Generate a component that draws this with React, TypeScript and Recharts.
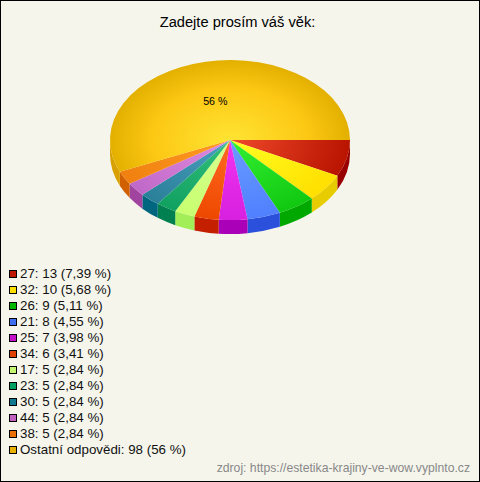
import React from 'react';
import { PieChart, Pie, Legend } from 'recharts';

const ages = ['27', '32', '26', '21', '25', '34', '17', '23', '30', '44', '38', 'Ostatní odpovědi'];
const counts = [13, 10, 9, 8, 7, 6, 5, 5, 5, 5, 5, 98];
const shares = ['7,39 %', '5,68 %', '5,11 %', '4,55 %', '3,98 %', '3,41 %', '2,84 %', '2,84 %', '2,84 %', '2,84 %', '2,84 %', '56 %'];

const innerColors = ['#f04a2c', '#ffff22', '#33f033', '#6a9cff', '#f033f0', '#ff6a22', '#d8ff90', '#33c07c', '#4aa0c0', '#e08ce0', '#ff9c22', '#ffe433'];
const outerColors = ['#b81400', '#ffdf00', '#10c810', '#5080ff', '#d820e0', '#ee4800', '#c8ff70', '#10a060', '#2a8098', '#c068c8', '#f08010', '#e4b000'];
const rimColors = ['#990000', '#e6cc00', '#00a800', '#2a50dc', '#aa00b8', '#c42000', '#a2ee58', '#008050', '#006680', '#a044a0', '#d06000', '#d8a000'];
const swatches = ['#c01800', '#ffe000', '#00b800', '#4070f0', '#c410c8', '#e04000', '#c4f870', '#00a060', '#107890', '#c060c0', '#e87000', '#e8b000'];

const CX = 230;
const CY = 140;
const RX = 120;
const RY = 80;
const DEPTH = 14;
const FONT = '"Liberation Sans", Arial, sans-serif';

const rows = ages.map((age, i) => ({
  name: `${age}: ${counts[i]} (${shares[i]})`,
  value: counts[i],
  fill: `url(#slice${i})`,
}));

// the original's fake 3d squeezes the lower left slices by a couple of degrees
const warp = (a: number) => {
  if (a <= 75) return a;
  if (a <= 160) return a - ((a - 75) / 85) * 2.9;
  return a - ((360 - a) / 200) * 2.9;
};
const px = (a: number) => (a * Math.PI) / 180;
const ex = (cx: number, a: number) => cx + RX * Math.cos(px(a));
const ey = (cy: number, a: number) => cy + RY * Math.sin(px(a));

const Slice3D = (props: any) => {
  const { cx, cy, startAngle, endAngle, fill, index } = props;
  const a0 = warp(-startAngle);
  const a1 = warp(-endAngle);
  const large = a1 - a0 > 180 ? 1 : 0;
  const top = `M${cx},${cy} L${ex(cx, a0)},${ey(cy, a0)} A${RX},${RY} 0 ${large} 1 ${ex(cx, a1)},${ey(cy, a1)} Z`;
  const lo = Math.max(a0, 0);
  const hi = Math.min(a1, 180);
  let rim = null;
  if (hi > lo) {
    const d =
      `M${ex(cx, lo)},${ey(cy, lo)} A${RX},${RY} 0 0 1 ${ex(cx, hi)},${ey(cy, hi)} ` +
      `L${ex(cx, hi)},${ey(cy, hi) + DEPTH} A${RX},${RY} 0 0 0 ${ex(cx, lo)},${ey(cy, lo) + DEPTH} Z`;
    rim = <path d={d} fill={rimColors[index]} />;
  }
  return (
    <g>
      {rim}
      <path d={top} fill={fill} />
    </g>
  );
};

const renderLabel = (props: any) => {
  if (props.index !== ages.length - 1) return null;
  const a = -props.midAngle;
  return (
    <text
      x={props.cx + 0.5 * RX * Math.cos(px(a)) - 4}
      y={props.cy + 0.5 * RY * Math.sin(px(a)) + 4}
      textAnchor="middle"
      fontFamily={FONT}
      fontSize={10.67}
      fill="#000"
    >
      {shares[props.index]}
    </text>
  );
};

const LegendList = ({ payload }: any) => (
  <div style={{ fontFamily: FONT, fontSize: 13.33, color: '#111' }}>
    {(payload || []).map((p: any, i: number) => (
      <div key={p.value} style={{ height: 16, lineHeight: '16px', display: 'flex', alignItems: 'center', whiteSpace: 'nowrap' }}>
        <span style={{ width: 6, height: 6, border: '1px solid #000', background: swatches[i], marginRight: 3, boxSizing: 'content-box' }} />
        {p.value}
      </div>
    ))}
  </div>
);

export default function App() {
  return (
    <div style={{ position: 'absolute', left: 0, top: 0, width: 480, height: 482, boxSizing: 'border-box', border: '1px solid #000', background: '#f5f5ec', overflow: 'hidden' }}>
      <div style={{ position: 'absolute', left: -1, top: -1 }}>
        <PieChart width={480} height={482} margin={{ top: 0, right: 0, bottom: 0, left: 0 }}>
          <defs>
            {innerColors.map((c, i) => (
              <radialGradient key={i} id={`slice${i}`} gradientUnits="userSpaceOnUse" cx={0} cy={0} r={1} gradientTransform={`translate(${CX},${CY}) scale(${RX},${RY})`}>
                <stop offset="0%" stopColor={c} />
                {i === ages.length - 1 && <stop offset="65%" stopColor="#fcc814" />}
                <stop offset="100%" stopColor={outerColors[i]} />
              </radialGradient>
            ))}
          </defs>
          <text x={237.5} y={27} textAnchor="middle" fontFamily={FONT} fontSize={14.67} fill="#000">
            Zadejte prosím váš věk:
          </text>
          <Pie
            data={rows}
            dataKey="value"
            nameKey="name"
            cx={CX}
            cy={CY}
            innerRadius={0}
            outerRadius={RX}
            startAngle={0}
            endAngle={-360}
            stroke="none"
            shape={Slice3D}
            label={renderLabel}
            labelLine={false}
            isAnimationActive={false}
          />
          <Legend itemSorter={null} content={<LegendList />} wrapperStyle={{ position: 'absolute', left: 9, top: 266, width: 300, bottom: 'auto' }} />
        </PieChart>
      </div>
      <div style={{ position: 'absolute', right: 9, top: 460, fontFamily: FONT, fontSize: 12.2, color: '#888', whiteSpace: 'nowrap' }}>
        zdroj: https://estetika-krajiny-ve-wow.vyplnto.cz
      </div>
    </div>
  );
}
